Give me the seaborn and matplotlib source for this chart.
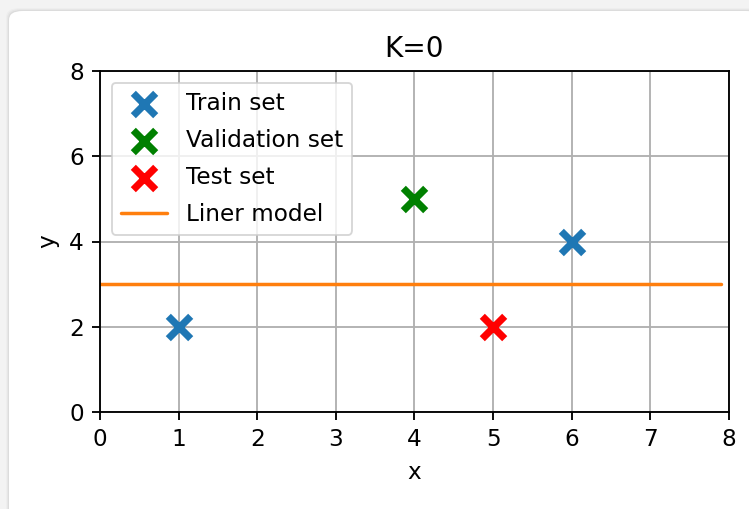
import matplotlib
matplotlib.use("Agg")
import matplotlib.pyplot as plt
import seaborn as sns
import numpy as np
import pandas as pd
from matplotlib.patches import FancyBboxPatch

# Data points
train_x = [1, 6]
train_y = [2, 4]
val_x = [4]
val_y = [5]
test_x = [5]
test_y = [2]

# Constant model prediction (K=0)
model_x = np.arange(0, 8, 0.1)
model_value = 3

sns.set_theme(style="white", rc={
    "axes.edgecolor": "black", "text.color": "black", "axes.labelcolor": "black",
    "xtick.color": "black", "ytick.color": "black",
    "xtick.bottom": True, "ytick.left": True,
})
plt.rcParams["font.family"] = ["DejaVu Sans"]
S = 1.67  # overall scale for text and line widths
plt.rcParams["font.size"] = 10 * S

fig = plt.figure(figsize=(7.49, 5.09), dpi=100)
fig.patch.set_facecolor("#f3f3f3")

# Card background with a soft shadow
for i, a in enumerate([0.02, 0.03, 0.04]):
    pad = 3 - i
    fig.patches.append(FancyBboxPatch(
        ((9 - pad) / 749, -0.05), (760 - 9 + 2 * pad) / 749, 1.05 - (11 - pad) / 509,
        boxstyle="round,pad=0,rounding_size=0.018", transform=fig.transFigure,
        facecolor="black", alpha=a, edgecolor="none", zorder=-3))
fig.patches.append(FancyBboxPatch(
    (9 / 749, -0.05), (760 - 9) / 749, 1.05 - 11 / 509,
    boxstyle="round,pad=0,rounding_size=0.018", transform=fig.transFigure,
    facecolor="white", edgecolor="none", zorder=-2))

ax = fig.add_axes([100 / 749, 1 - 412 / 509, 629 / 749, 341 / 509])
ax.set_facecolor("white")

train_df = pd.DataFrame({"x": train_x, "y": train_y})
val_df = pd.DataFrame({"x": val_x, "y": val_y})
test_df = pd.DataFrame({"x": test_x, "y": test_y})
model_df = pd.DataFrame({"x": model_x, "y": np.full(len(model_x), model_value)})

mk = dict(marker="x", s=260, linewidths=5.2, zorder=3)
sns.scatterplot(data=train_df, x="x", y="y", color="#1f77b4", label="Train set", ax=ax, **mk)
sns.scatterplot(data=val_df, x="x", y="y", color="green", label="Validation set", ax=ax, **mk)
sns.scatterplot(data=test_df, x="x", y="y", color="red", label="Test set", ax=ax, **mk)
sns.lineplot(data=model_df, x="x", y="y", color="#ff7f0e", linewidth=1.5 * S,
             label="Liner model", ax=ax, zorder=2)

ax.set_xlim(0, 8)
ax.set_ylim(0, 8)
ax.set_xticks(range(0, 9))
ax.set_yticks(range(0, 9, 2))
ax.grid(True, color="#b0b0b0", linewidth=0.8 * S)
ax.set_axisbelow(True)
for s in ax.spines.values():
    s.set_linewidth(0.8 * S)
    s.set_visible(True)
ax.tick_params(direction="out", length=3.5 * S, width=0.8 * S, pad=3.5 * S,
               labelsize=10 * S)
ax.set_xlabel("x", fontsize=10 * S, labelpad=4 * S)
ax.set_ylabel("y", fontsize=10 * S, labelpad=4 * S)
ax.set_title("K=0", fontsize=12 * S, pad=6 * S)
leg = ax.legend(loc="upper left", fontsize=10 * S, framealpha=0.8, fancybox=True,
                labelspacing=0.6)
leg.get_frame().set_edgecolor("#cccccc")
leg.get_frame().set_linewidth(0.8 * S)

fig.savefig("out.png", dpi=100, facecolor=fig.get_facecolor())
